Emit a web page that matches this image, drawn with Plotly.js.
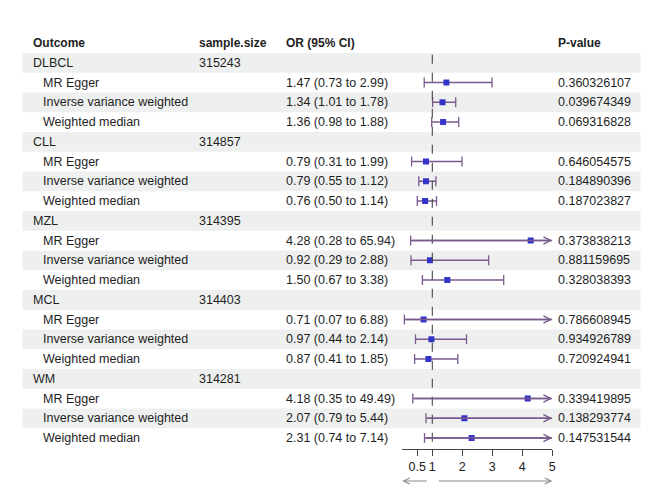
<!DOCTYPE html>
<html><head><meta charset="utf-8">
<script src="https://cdn.plot.ly/plotly-3.0.1.min.js"></script>
<style>html,body{margin:0;padding:0;background:#fff}</style>
</head><body><div id="chart" style="width:669px;height:497px"></div>
<script>
const outcomes = ["DLBCL","CLL","MZL","MCL","WM"];
const sampleSizes = ["315243","314857","314395","314403","314281"];
const methods = ["MR Egger","Inverse variance weighted","Weighted median"];
const orVals = [1.47,1.34,1.36, 0.79,0.79,0.76, 4.28,0.92,1.50, 0.71,0.97,0.87, 4.18,2.07,2.31];
const lower  = [0.73,1.01,0.98, 0.31,0.55,0.50, 0.28,0.29,0.67, 0.07,0.44,0.41, 0.35,0.79,0.74];
const upper  = [2.99,1.78,1.88, 1.99,1.12,1.14, 65.94,2.88,3.38, 6.88,2.14,1.85, 49.49,5.44,7.14];
const pvals  = ["0.360326107","0.039674349","0.069316828","0.646054575","0.184890396","0.187023827",
                "0.373838213","0.881159695","0.328038393","0.786608945","0.934926789","0.720924941",
                "0.339419895","0.138293774","0.147531544"];
const tickVals = [0.5,1,2,3,4,5];
const tickText = ["0.5","1","2","3","4","5"];
const xMax = 5;

const W = 669, H = 497;
const rowH = 19.75, row0 = 43, plotBottom = 449;
const font = "Liberation Sans, Arial, sans-serif";
const txtCol = "#1e1e1e";
const lineCol = "#7a5a8c";
const boxCol = "#3434c8";

const annotations = [];
const shapes = [];
function txt(x, y, s, bold) {
  annotations.push({xref:"paper", yref:"y", x:x/W, y:y, text: bold ? "<b>"+s+"</b>" : s,
    showarrow:false, xanchor:"left", yanchor:"middle",
    font:{family:font, size: bold ? 12 : 12.5, color:txtCol}});
}
txt(31, 0, "Outcome", true);
txt(197, 0, "sample.size", true);
txt(284, 0, "OR (95% CI)", true);
txt(556, 0, "P-value", true);

const ptX = [], ptY = [], lnX = [], lnY = [], capX = [], capY = [];
let r = 1;
const totalRows = outcomes.length * 4;
for (let g = 0; g < outcomes.length; g++) {
  txt(31, r, outcomes[g]);
  txt(197, r, sampleSizes[g]);
  r++;
  for (let m = 0; m < methods.length; m++) {
    const k = g*3 + m;
    txt(41, r, methods[m]);
    txt(284, r, orVals[k].toFixed(2) + " (" + lower[k].toFixed(2) + " to " + upper[k].toFixed(2) + ")");
    txt(556, r, pvals[k]);
    ptX.push(orVals[k]); ptY.push(r);
    const hi = Math.min(upper[k], xMax);
    lnX.push(lower[k], hi, null); lnY.push(r, r, null);
    capX.push(lower[k]); capY.push(r);
    if (upper[k] > xMax) {
      annotations.push({xref:"x", yref:"y", x:xMax, y:r, axref:"x", ayref:"y", ax:lower[k], ay:r,
        text:"", showarrow:true, arrowhead:5, arrowsize:1.1, arrowwidth:1.3, arrowcolor:lineCol, standoff:0});
    } else {
      capX.push(upper[k]); capY.push(r);
    }
    r++;
  }
}
for (let i = 1; i <= totalRows; i += 2) {
  shapes.push({type:"rect", xref:"paper", yref:"y", x0:22.5/W, x1:640.5/W, y0:i-0.5, y1:i+0.5,
    fillcolor:"#eef0ef", line:{width:0}, layer:"below"});
}
shapes.push({type:"line", xref:"x", yref:"y", x0:1, x1:1, y0:0.6, y1:20.56,
  line:{color:"#444", width:1.1, dash:"dash"}});

const arrowY = (plotBottom - 481) / plotBottom;
annotations.push({xref:"x", yref:"paper", x:0, y:arrowY, ax:26, ay:0, text:"", showarrow:true,
  arrowhead:5, arrowsize:1, arrowwidth:1.2, arrowcolor:"#8a8a8a", standoff:0});
annotations.push({xref:"x", yref:"paper", x:xMax, y:arrowY, ax:-115, ay:0, text:"", showarrow:true,
  arrowhead:5, arrowsize:1, arrowwidth:1.2, arrowcolor:"#8a8a8a", standoff:0});

const traces = [
  {x:lnX, y:lnY, type:"scatter", mode:"lines", line:{color:lineCol, width:1.4}, hoverinfo:"skip", cliponaxis:false},
  {x:capX, y:capY, type:"scatter", mode:"markers", marker:{symbol:"line-ns-open", size:7, color:lineCol, line:{color:lineCol, width:1.3}}, hoverinfo:"skip", cliponaxis:false},
  {x:ptX, y:ptY, type:"scatter", mode:"markers", marker:{symbol:"square", size:6, color:boxCol}, cliponaxis:false}
];

const layout = {
  width:W, height:H, margin:{l:0, r:0, t:0, b:H-plotBottom, pad:0},
  paper_bgcolor:"#fff", plot_bgcolor:"rgba(0,0,0,0)", showlegend:false,
  xaxis:{domain:[402.3/W, 552.3/W], range:[0, xMax], showline:true, linecolor:"#444", linewidth:1,
    ticks:"outside", ticklen:6, tickcolor:"#444", tickvals:tickVals, ticktext:tickText,
    showgrid:false, zeroline:false, tickfont:{family:font, size:12.5, color:"#222"}, fixedrange:true},
  yaxis:{domain:[0,1], range:[(plotBottom-row0)/rowH, -row0/rowH], visible:false, showgrid:false, zeroline:false, fixedrange:true},
  annotations:annotations, shapes:shapes, font:{family:font}
};
Plotly.newPlot("chart", traces, layout, {displayModeBar:false, staticPlot:true});
</script></body></html>
